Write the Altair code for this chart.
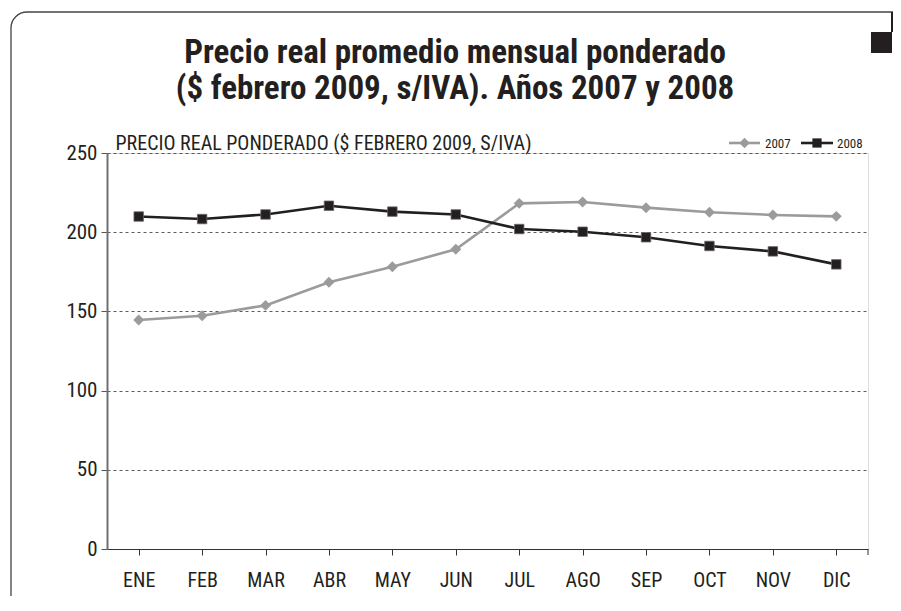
import altair as alt
import pandas as pd

months = ["ENE", "FEB", "MAR", "ABR", "MAY", "JUN", "JUL", "AGO", "SEP", "OCT", "NOV", "DIC"]
v2007 = [144.6, 147.3, 153.8, 168.4, 178.2, 189.2, 218.2, 219.1, 215.5, 212.6, 210.9, 210.0]
v2008 = [209.9, 208.3, 211.2, 216.7, 213.0, 211.2, 202.0, 200.3, 196.8, 191.3, 187.9, 179.7]
series = ["2007", "2008"]
y_ticks = [0, 50, 100, 150, 200, 250]
title_lines = ["Precio real promedio mensual ponderado", "($ febrero 2009, s/IVA). Años 2007 y 2008"]
y_title = "PRECIO REAL PONDERADO ($ FEBRERO 2009, S/IVA)"

FONT = "Roboto Condensed, DejaVu Sans Condensed, sans-serif"
GRAY = "#9b9b9b"
BLACK = "#231f20"

df = pd.DataFrame({
    "mes": months * 2,
    "valor": v2007 + v2008,
    "serie": [series[0]] * 12 + [series[1]] * 12,
})

W, H = 761, 396

x_enc = alt.X("mes:N", sort=months,
              scale=alt.Scale(paddingInner=0, paddingOuter=0),
              axis=alt.Axis(title=None, bandPosition=0, labelAngle=0, labelFontSize=20,
                            labelFont=FONT, labelColor=BLACK, labelPadding=15,
                            tickSize=6, tickColor="#333", domainColor="#333", domainWidth=1.2,
                            grid=False))
y_enc = alt.Y("valor:Q",
              scale=alt.Scale(domain=[0, 250], nice=False, zero=True),
              axis=alt.Axis(values=y_ticks, title=y_title, titleAngle=0, titleAlign="left",
                            titleBaseline="alphabetic", titleX=8, titleY=-4,
                            titleFont=FONT, titleFontSize=20, titleFontWeight="normal",
                            titleColor=BLACK,
                            labelFont=FONT, labelFontSize=21, labelColor=BLACK, labelPadding=4,
                            tickSize=6, tickColor="#555", domainColor="#707070", domainWidth=2,
                            grid=True, gridDash=[3, 3], gridColor="#333", gridWidth=0.8))

base = alt.Chart(df)

lines = base.mark_line(strokeWidth=2.6).encode(
    x=x_enc, y=y_enc,
    color=alt.Color("serie:N", scale=alt.Scale(domain=series, range=[GRAY, BLACK]), legend=None),
    detail="serie:N",
)

pts07 = base.transform_filter(alt.datum.serie == series[0]).mark_point(
    shape="diamond", filled=True, size=120, color=GRAY, opacity=1
).encode(x=alt.X("mes:N", sort=months), y="valor:Q")

pts08 = base.transform_filter(alt.datum.serie == series[1]).mark_point(
    shape="square", filled=True, size=90, fill=BLACK, stroke="#6a6a6a", strokeWidth=0.8, opacity=1
).encode(x=alt.X("mes:N", sort=months), y="valor:Q")

one = pd.DataFrame({"k": [0]})
deco = alt.Chart(one)

# frame and corner squares (decoration)
frame = deco.mark_rect(cornerRadius=16, fillOpacity=0, stroke="#444", strokeWidth=1.3).encode(
    x=alt.value(-96), x2=alt.value(830), y=alt.value(-141), y2=alt.value(470))
sq1 = deco.mark_rect(color=BLACK).encode(
    x=alt.value(784), x2=alt.value(800), y=alt.value(-141), y2=alt.value(-121))
sq2 = deco.mark_rect(color=BLACK).encode(
    x=alt.value(764), x2=alt.value(785), y=alt.value(-121), y2=alt.value(-100))
end_tick = deco.mark_rule(color="#333", strokeWidth=1).encode(
    x=alt.value(W), y=alt.value(H), y2=alt.value(H + 6))

# title as text (two lines)
title_df = pd.DataFrame({"t": title_lines})
t1 = alt.Chart(title_df).transform_filter(alt.datum.t == title_lines[0]).mark_text(
    align="center", baseline="alphabetic", font=FONT, fontSize=33, fontWeight="bold", color=BLACK
).encode(x=alt.value(348), y=alt.value(-90), text="t:N")
t2 = alt.Chart(title_df).transform_filter(alt.datum.t == title_lines[1]).mark_text(
    align="center", baseline="alphabetic", font=FONT, fontSize=33, fontWeight="bold", color=BLACK
).encode(x=alt.value(348), y=alt.value(-54), text="t:N")

# legend (decoration)
leg_df = pd.DataFrame({"serie": series})
leg_rule07 = deco.mark_rule(color=GRAY, strokeWidth=2.6).encode(
    x=alt.value(622), x2=alt.value(653), y=alt.value(-10))
leg_pt07 = deco.mark_point(shape="diamond", filled=True, size=110, color=GRAY, opacity=1).encode(
    x=alt.value(637.5), y=alt.value(-10))
leg_tx07 = alt.Chart(leg_df).transform_filter(alt.datum.serie == series[0]).mark_text(
    align="left", baseline="middle", font=FONT, fontSize=13, color=BLACK).encode(
    x=alt.value(658), y=alt.value(-9.5), text="serie:N")
leg_rule08 = deco.mark_rule(color=BLACK, strokeWidth=2.6).encode(
    x=alt.value(694), x2=alt.value(726), y=alt.value(-10))
leg_pt08 = deco.mark_point(shape="square", filled=True, size=85, color=BLACK, opacity=1).encode(
    x=alt.value(710), y=alt.value(-10))
leg_tx08 = alt.Chart(leg_df).transform_filter(alt.datum.serie == series[1]).mark_text(
    align="left", baseline="middle", font=FONT, fontSize=13, color=BLACK).encode(
    x=alt.value(730), y=alt.value(-9.5), text="serie:N")

chart = alt.layer(
    frame, sq1, sq2, t1, t2, lines, pts07, pts08, end_tick,
    leg_rule07, leg_pt07, leg_tx07, leg_rule08, leg_pt08, leg_tx08,
).properties(
    width=W, height=H,
    autosize=alt.AutoSizeParams(type="none"),
    padding={"left": 99, "top": 145, "right": 25, "bottom": 47},
).configure_view(stroke=None).configure(background="white")

chart.save("out.html", embed_options={"renderer": "svg", "actions": False})
